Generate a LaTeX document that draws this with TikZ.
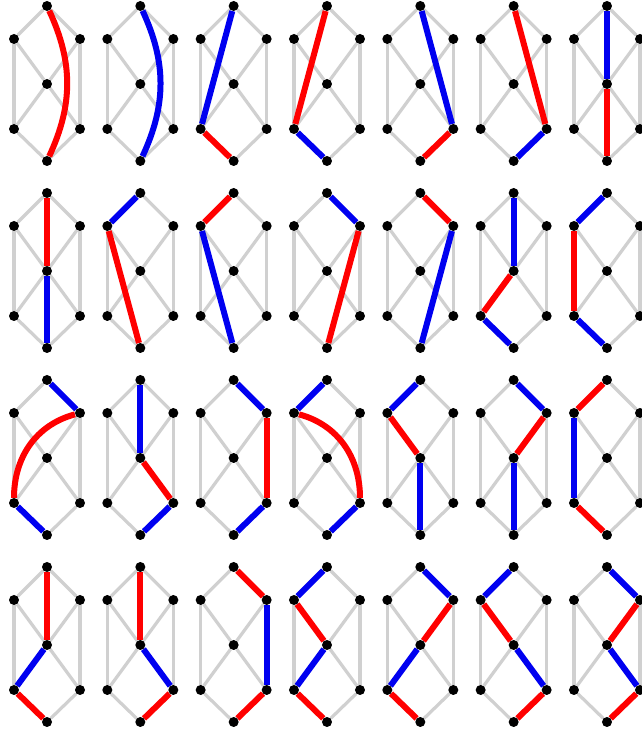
\documentclass[tikz,border=0pt]{standalone}
\definecolor{hair}{HTML}{D0D0D0}
\definecolor{cred}{HTML}{FF0000}
\definecolor{cblue}{HTML}{0000F0}
\pgfdeclarelayer{skel}
\pgfdeclarelayer{hlayer}
\pgfsetlayers{skel,hlayer,main}
\tikzset{
  vtx/.style={circle, fill=black, inner sep=0pt, minimum size=10pt},
  grayedge/.style={draw=hair, line width=3.2pt},
  hl/.style={draw=#1, line width=6pt},
}
% #1 column, #2 row, #3 list from/to/colour
\newcommand{\hlpath}[3]{%
  \foreach \p/\q/\k in {#3}
    \draw[hl=\k] (v#1-#2-\p) -- (v#1-#2-\q);}

\begin{document}
\begin{tikzpicture}[x=1pt,y=1pt]
  \useasboundingbox (0,0) rectangle (641,731);
  % seven-vertex skeletons
  \foreach \c in {0,...,6}
    \foreach \r in {0,...,3} {
      \begin{scope}[shift={({47+93.33*\c},{725-187*\r})}]
        \node[vtx] (v\c-\r-t) at (0,0) {};
        \node[vtx] (v\c-\r-a) at (-33,-33) {};
        \node[vtx] (v\c-\r-b) at (33,-33) {};
        \node[vtx] (v\c-\r-c) at (0,-78) {};
        \node[vtx] (v\c-\r-d) at (-33,-123) {};
        \node[vtx] (v\c-\r-e) at (33,-123) {};
        \node[vtx] (v\c-\r-o) at (0,-155) {};
        \begin{pgfonlayer}{skel}
          \foreach \p/\q in {t/a,t/b,a/d,b/e,a/c,b/c,c/d,c/e,d/o,e/o}
            \draw[grayedge] (v\c-\r-\p) -- (v\c-\r-\q);
        \end{pgfonlayer}
      \end{scope}
    }
  \begin{pgfonlayer}{hlayer}
    % row 1
    \draw[hl=cred] (v0-0-t) to[bend left=25] (v0-0-o);
    \draw[hl=cblue] (v1-0-t) to[bend left=25] (v1-0-o);
    \hlpath{2}{0}{t/d/cblue, d/o/cred}
    \hlpath{3}{0}{t/d/cred, d/o/cblue}
    \hlpath{4}{0}{t/e/cblue, e/o/cred}
    \hlpath{5}{0}{t/e/cred, e/o/cblue}
    \hlpath{6}{0}{t/c/cblue, c/o/cred}
    % row 2
    \hlpath{0}{1}{t/c/cred, c/o/cblue}
    \hlpath{1}{1}{t/a/cblue, a/o/cred}
    \hlpath{2}{1}{t/a/cred, a/o/cblue}
    \hlpath{3}{1}{t/b/cblue, b/o/cred}
    \hlpath{4}{1}{t/b/cred, b/o/cblue}
    \hlpath{5}{1}{t/c/cblue, c/d/cred, d/o/cblue}
    \hlpath{6}{1}{t/a/cblue, a/d/cred, d/o/cblue}
    % row 3
    \hlpath{0}{2}{t/b/cblue, d/o/cblue}
    \draw[hl=cred] (v0-2-b) to[out=195,in=90,looseness=1] (v0-2-d);
    \hlpath{1}{2}{t/c/cblue, c/e/cred, e/o/cblue}
    \hlpath{2}{2}{t/b/cblue, b/e/cred, e/o/cblue}
    \hlpath{3}{2}{t/a/cblue, e/o/cblue}
    \draw[hl=cred] (v3-2-a) to[out=-15,in=90,looseness=1] (v3-2-e);
    \hlpath{4}{2}{t/a/cblue, a/c/cred, c/o/cblue}
    \hlpath{5}{2}{t/b/cblue, b/c/cred, c/o/cblue}
    \hlpath{6}{2}{t/a/cred, a/d/cblue, d/o/cred}
    % row 4
    \hlpath{0}{3}{t/c/cred, c/d/cblue, d/o/cred}
    \hlpath{1}{3}{t/c/cred, c/e/cblue, e/o/cred}
    \hlpath{2}{3}{t/b/cred, b/e/cblue, e/o/cred}
    \hlpath{3}{3}{t/a/cblue, a/c/cred, c/d/cblue, d/o/cred}
    \hlpath{4}{3}{t/b/cblue, b/c/cred, c/d/cblue, d/o/cred}
    \hlpath{5}{3}{t/a/cblue, a/c/cred, c/e/cblue, e/o/cred}
    \hlpath{6}{3}{t/b/cblue, b/c/cred, c/e/cblue, e/o/cred}
  \end{pgfonlayer}
\end{tikzpicture}
\end{document}
